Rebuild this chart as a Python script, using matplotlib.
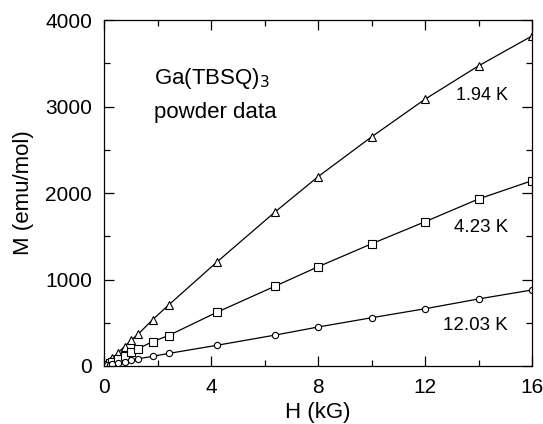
import matplotlib
matplotlib.use("Agg")
import matplotlib.pyplot as plt
from matplotlib.ticker import MultipleLocator

plt.rcParams['font.family'] = ['Liberation Sans', 'DejaVu Sans']

H = [0.1, 0.2, 0.3, 0.5, 0.75, 1.0, 1.25, 1.8, 2.4, 4.2, 6.4, 8, 10, 12, 14, 16]
M_194 = [30, 60, 90, 150, 225, 300, 365, 535, 705, 1200, 1785, 2190, 2650, 3085, 3470, 3815]
M_423 = [16, 32, 48, 80, 120, 160, 198, 282, 352, 620, 925, 1148, 1413, 1668, 1931, 2142]
M_1203 = [7, 13, 20, 33, 50, 66, 82, 112, 145, 239, 358, 451, 558, 662, 775, 879]

fig = plt.figure(figsize=(5.43, 4.24), dpi=100)
ax = fig.add_axes([0.1924, 0.1368, 0.9797 - 0.1924, 0.9528 - 0.1368])

kw = dict(color='black', lw=0.9, mfc='white', mec='black', mew=0.8)
ax.plot(H, M_194, marker='^', ms=5.8, **kw)
ax.plot(H, M_423, marker='s', ms=5.5, **kw)
ax.plot(H, M_1203, marker='o', ms=4.5, **kw)

ax.set_xlim(0, 16)
ax.set_ylim(0, 4000)
ax.xaxis.set_major_locator(MultipleLocator(4))
ax.xaxis.set_minor_locator(MultipleLocator(2))
ax.yaxis.set_major_locator(MultipleLocator(1000))
ax.yaxis.set_minor_locator(MultipleLocator(500))
ax.tick_params(which='both', direction='in', top=True, right=True, labelsize=15, width=0.9, pad=9)
ax.tick_params(which='major', length=7)
ax.tick_params(which='minor', length=4.5)
for s in ax.spines.values():
    s.set_linewidth(0.9)

ax.set_xlabel('H (kG)', fontsize=16, labelpad=3)
ax.set_ylabel('M (emu/mol)', fontsize=16, labelpad=8)

ax.text(1.85, 3320, 'Ga(TBSQ)$_3$', fontsize=16, va='center', ha='left')
ax.text(1.85, 2930, 'powder data', fontsize=16, va='center', ha='left')
ax.text(15.1, 3130, '1.94 K', fontsize=13, va='center', ha='right')
ax.text(15.1, 1600, '4.23 K', fontsize=13.5, va='center', ha='right')
ax.text(15.1, 470, '12.03 K', fontsize=13.5, va='center', ha='right')

fig.savefig('out.png', dpi=100)
